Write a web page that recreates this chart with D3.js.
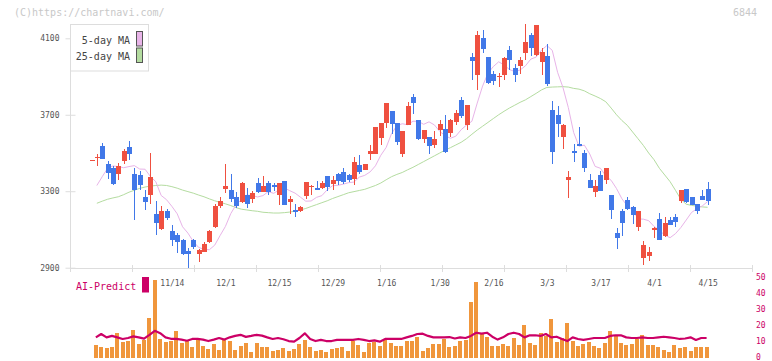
<!DOCTYPE html>
<html>
<head>
<meta charset="utf-8">
<script src="https://cdn.jsdelivr.net/npm/d3@7"></script>
<style>
body { margin: 0; background: #fff; }
svg { display: block; font-family: "DejaVu Sans Mono", "Liberation Mono", monospace; }
</style>
</head>
<body>
<script>
// daily prices, one entry per trading day (index 0 = first day shown)
var open = [3463,3474,3536,3442,3423,3390,3458,3531,3390,3385,3270,3280,3181,3102,3196,3092,3071,3045,2987,3045,
  2972,2982,3034,3113,3223,3312,3306,3270,3244,3280,3259,3343,3296,3343,3333,3280,3354,3244,3202,3197,
  3275,3320,3317,3317,3380,3338,3390,3401,3385,3364,3437,3411,3495,3495,3578,3657,3720,3657,3495,3646,
  3793,3672,3573,3584,3542,3620,3625,3605,3662,3777,3646,4002,3908,4101,4002,3913,3899,3908,4039,3944,
  3955,4023,4117,4013,3976,4007,3725,3699,3583,3359,3510,3547,3500,3359,3296,3385,3359,3280,3081,3196,
  3254,3217,3113,2951,2961,3097,3155,3066,3149,3165,3249,3312,3270,3233,3275,3312];
var high = [3463,3494,3552,3458,3432,3447,3521,3562,3422,3406,3306,3501,3250,3222,3207,3123,3081,3050,3003,3050,
  2998,3034,3097,3233,3270,3442,3390,3296,3348,3317,3301,3369,3380,3354,3343,3343,3354,3275,3233,3223,
  3348,3333,3354,3354,3380,3380,3395,3421,3390,3479,3489,3442,3542,3636,3657,3761,3720,3657,3615,3767,
  3809,3672,3620,3584,3615,3672,3699,3678,3725,3793,3751,4023,4138,4143,4002,3929,3920,4002,4060,3965,
  4002,4175,4128,4169,4049,4070,3772,3746,3651,3406,3547,3636,3516,3390,3359,3406,3421,3280,3107,3207,
  3270,3223,3196,3040,3008,3113,3186,3165,3165,3181,3306,3312,3270,3233,3306,3348];
var low = [3463,3432,3468,3362,3331,3358,3440,3463,3149,3308,3201,3233,3071,3097,3152,3013,2977,2966,2900,2998,
  2930,2982,3029,3108,3212,3291,3244,3212,3238,3212,3238,3291,3296,3280,3301,3228,3228,3181,3165,3191,
  3259,3280,3306,3312,3301,3306,3335,3338,3348,3332,3390,3411,3463,3495,3542,3631,3599,3542,3479,3646,
  3704,3568,3552,3495,3526,3589,3500,3584,3646,3683,3620,3882,3829,4023,3861,3855,3845,3882,3934,3871,
  3913,3986,4007,4007,3908,3850,3442,3583,3521,3264,3453,3536,3401,3317,3270,3301,3338,3155,2998,3066,
  3201,3128,3092,2914,2935,3055,3045,3061,3123,3113,3238,3238,3228,3181,3254,3228];
var close = [3463,3478,3468,3397,3338,3432,3510,3494,3306,3332,3243,3374,3133,3196,3160,3045,3034,2972,2972,3008,
  2993,3024,3092,3223,3249,3327,3259,3223,3343,3233,3291,3296,3327,3296,3322,3343,3228,3259,3191,3217,
  3348,3325,3306,3343,3322,3359,3353,3348,3359,3453,3401,3442,3510,3636,3657,3761,3652,3557,3615,3746,
  3761,3573,3620,3537,3573,3652,3505,3672,3709,3693,3751,3981,4117,4044,3866,3876,3903,3997,3986,3908,
  3986,4080,4049,4169,4028,3861,3505,3651,3646,3374,3500,3536,3421,3317,3327,3301,3421,3202,3055,3134,
  3207,3176,3196,3019,2982,3107,3045,3134,3123,3139,3306,3244,3228,3196,3254,3249];

// moving averages as drawn on the chart (no value on the first day)
var ma5 = [null,3330,3376,3420,3432,3429,3423,3429,3434,3416,3415,3377,3350,3278,3256,3221,3182,3114,3081,3037,3006,
  2996,2994,3018,3068,3116,3183,3230,3256,3280,3277,3270,3277,3298,3289,3306,3317,3303,3290,3269,3248,
  3249,3268,3277,3308,3329,3331,3337,3345,3348,3374,3383,3401,3433,3488,3529,3601,3643,3653,3648,3666,
  3666,3650,3663,3647,3613,3591,3577,3588,3622,3646,3666,3761,3850,3917,3952,3977,3961,3937,3926,3934,
  3956,3991,4002,4038,4062,4037,3922,3843,3738,3607,3535,3541,3495,3430,3420,3380,3357,3314,3261,3223,
  3204,3155,3154,3146,3116,3096,3070,3057,3078,3110,3149,3189,3208,3223,3246];
var ma25 = [null,3237,3248,3258,3265,3271,3282,3295,3305,3315,3322,3327,3330,3332,3330,3324,3316,3306,3298,3290,3280,
  3271,3260,3250,3242,3234,3225,3214,3206,3202,3198,3195,3190,3188,3186,3186,3188,3191,3196,3202,3210,
  3220,3230,3240,3250,3262,3272,3282,3292,3298,3304,3310,3320,3330,3343,3360,3376,3388,3398,3412,3425,
  3440,3455,3470,3485,3500,3515,3528,3542,3556,3575,3598,3620,3640,3660,3680,3700,3718,3735,3750,3765,
  3778,3795,3812,3830,3843,3845,3846,3847,3845,3838,3834,3825,3810,3798,3785,3768,3735,3700,3670,3645,
  3610,3575,3540,3500,3465,3420,3385,3350,3305,3258,3232,3226,3222,3218,3216];

// volume bars and the AI-Predict line (right axis units)
var volume = [null,8.1,6.9,6.3,6.9,15.6,10.2,10.6,17.5,8.8,11.3,25,49,11.9,10.2,10.4,17.1,9.6,10.6,6.9,11.3,
  7.5,5.6,8.8,5.0,11.9,10.4,5.0,7.5,9.4,3.8,9.4,6.9,6.9,4.6,5.0,6.3,4.4,5.6,8.8,11.3,
  6.9,4.4,5.0,3.8,5.6,6.3,6.9,4.4,10.6,8.1,3.8,9.4,10.2,7.5,11.3,9.4,7.5,7.5,10.6,10.6,
  13.1,4.4,6.3,8.8,8.8,11.9,6.9,7.5,10.6,11.3,35,47.5,15.6,13.1,7.5,7.5,8.8,7.5,12.5,8.1,
  20.6,9.4,8.1,15.6,13.8,24.4,10.2,12.5,22,10.6,7.5,8.8,10.2,7.5,6.3,9.4,16.9,13.8,9.4,8.1,
  8.8,11.9,14.4,8.1,8.1,6.9,5.0,3.8,8.1,6.3,6.9,4.4,6.9,6.9,6.9];
var aiPredict = [null,12.9,15.0,12.9,13.8,12.9,11.9,12.5,13.5,12.9,12.1,14.4,17.0,15.5,12.9,12.0,11.9,11.5,10.8,11.9,11.9,
  11.5,10.6,11.5,12.5,11.5,12.9,13.8,14.5,13.2,13.8,14.5,14.0,12.9,11.9,12.5,11.7,10.6,10.2,12.5,15.4,
  11.9,10.6,11.3,10.6,10.6,11.3,11.3,11.3,11.3,11.9,11.3,10.6,11.0,10.2,11.9,11.9,11.9,11.9,12.9,13.8,
  15.0,15.2,13.8,12.9,12.9,12.9,13.1,12.2,12.9,12.5,13.8,15.8,15.2,15.8,13.3,11.5,12.9,15.0,15.8,15.0,
  12.9,14.2,14.2,13.8,15.0,12.9,13.3,11.9,10.6,12.9,11.9,11.3,11.9,12.5,12.5,12.5,13.8,14.2,14.2,12.9,
  12.5,12.5,12.9,12.5,12.5,12.9,13.3,12.9,12.5,11.9,12.2,12.9,11.3,12.5,12.5];

// axis labels
var dateTickIdx = [15,25,35,45,55,65,75,85,95,105,115];
var dateTickLabels = ["11/14","12/1","12/15","12/29","1/16","1/30","2/16","3/3","3/17","4/1","4/15"];
var priceTicks = [2900,3300,3700,4100];
var volTicks = [0,10,20,30,40,50];

var width = 772, height = 361;
var svg = d3.select("body").append("svg")
    .attr("width", width)
    .attr("height", height);

var x = d3.scaleLinear().domain([0, 115]).range([91.5, 707.6]);
var y = d3.scaleLinear().domain([2900, 4100]).range([267.7, 38.3]);
var yv = d3.scaleLinear().domain([0, 50]).range([358, 278]);
// the grey marks along the bottom line, evenly spaced
var gridX = d3.scaleLinear().domain([0, 11]).range([70.5, 752.5]);

// header texts
svg.append("text").attr("x", 14).attr("y", 15.5)
  .attr("font-size", 10).attr("fill", "#c8c8c8")
  .text("(C)https://chartnavi.com/");
svg.append("text").attr("x", 757).attr("y", 15.5)
  .attr("font-size", 10).attr("fill", "#c8c8c8").attr("text-anchor", "end")
  .text("6844");

// left price axis
svg.append("line")
  .attr("x1", 70.5).attr("x2", 70.5).attr("y1", 24).attr("y2", 268.5)
  .attr("stroke", "#ddd");
var yAxis = svg.append("g")
  .attr("transform", "translate(70.5,0)")
  .call(d3.axisLeft(y).tickValues(priceTicks).tickFormat(d3.format("d"))
    .tickSize(5).tickPadding(6));
yAxis.select(".domain").remove();
yAxis.selectAll(".tick line").attr("x1", 5).attr("x2", -5).attr("stroke", "#ddd");
yAxis.selectAll(".tick text")
  .attr("font-family", "DejaVu Sans Mono, monospace")
  .attr("font-size", 8).attr("fill", "#555");

// bottom line with grey marks
svg.append("line")
  .attr("x1", 70).attr("x2", 752).attr("y1", 268.5).attr("y2", 268.5)
  .attr("stroke", "#ddd");
svg.append("g").selectAll("line")
  .data(d3.range(0, 12))
  .enter().append("line")
  .attr("x1", function(d){ return gridX(d); })
  .attr("x2", function(d){ return gridX(d); })
  .attr("y1", 265).attr("y2", 272)
  .attr("stroke", "#ddd");

// date labels
var xAxis = svg.append("g")
  .attr("transform", "translate(0,268)")
  .call(d3.axisBottom(x).tickValues(dateTickIdx)
    .tickFormat(function(d, i){ return dateTickLabels[i]; })
    .tickSize(0).tickPadding(12));
xAxis.select(".domain").remove();
xAxis.selectAll(".tick text")
  .attr("font-family", "DejaVu Sans Mono, monospace")
  .attr("font-size", 8).attr("fill", "#555");

// volume axis on the right
var vAxis = svg.append("g")
  .attr("transform", "translate(752,0)")
  .call(d3.axisRight(yv).tickValues(volTicks).tickSize(0).tickPadding(4));
vAxis.select(".domain").remove();
vAxis.selectAll(".tick text")
  .attr("font-family", "DejaVu Sans Mono, monospace")
  .attr("font-size", 8).attr("fill", "#cc0066")
  .attr("dy", "0.15em");

// moving averages
var lineOf = function(arr){
  return d3.line()
    .defined(function(d){ return d != null; })
    .x(function(d, i){ return x(i); })
    .y(function(d){ return y(d); })(arr);
};
svg.append("path").attr("d", lineOf(ma25))
  .attr("fill", "none").attr("stroke", "#b4dca0").attr("stroke-width", 1);
svg.append("path").attr("d", lineOf(ma5))
  .attr("fill", "none").attr("stroke", "#e8b4e8").attr("stroke-width", 1);

// candles
var days = d3.range(open.length);
var candles = svg.append("g").attr("shape-rendering", "crispEdges");
candles.selectAll("line.wick")
  .data(days).enter().append("line")
  .attr("class", "wick")
  .attr("x1", function(i){ return Math.round(x(i)) + 0.5; })
  .attr("x2", function(i){ return Math.round(x(i)) + 0.5; })
  .attr("y1", function(i){ return y(high[i]); })
  .attr("y2", function(i){ return y(low[i]); })
  .attr("stroke", function(i){ return close[i] >= open[i] ? "#ef5040" : "#4178e8"; })
  .attr("stroke-width", 1);
candles.selectAll("rect.body")
  .data(days).enter().append("rect")
  .attr("class", "body")
  .attr("x", function(i){ return Math.round(x(i)) - 2; })
  .attr("width", 5)
  .attr("y", function(i){ return y(Math.max(open[i], close[i])); })
  .attr("height", function(i){ return Math.max(1, Math.abs(y(open[i]) - y(close[i]))); })
  .attr("fill", function(i){ return close[i] >= open[i] ? "#ef5040" : "#4178e8"; });

// legend
svg.append("rect").attr("x", 70.5).attr("y", 24.5).attr("width", 78).attr("height", 46.5)
  .attr("fill", "#fff").attr("stroke", "#ddd");
var legendItems = [["5-day MA", "#e8b4e8"], ["25-day MA", "#b4dca0"]];
legendItems.forEach(function(item, k){
  svg.append("text").attr("x", 130).attr("y", 43.5 + k * 16)
    .attr("font-size", 10).attr("fill", "#444").attr("text-anchor", "end")
    .text(item[0]);
  svg.append("rect").attr("x", 136.5).attr("y", 31.5 + k * 16.5)
    .attr("width", 6).attr("height", 14.5)
    .attr("fill", item[1]).attr("stroke", "#555");
});

// volume bars
svg.append("g").attr("shape-rendering", "crispEdges")
  .selectAll("rect")
  .data(days.filter(function(i){ return volume[i] != null; }))
  .enter().append("rect")
  .attr("x", function(i){ return Math.round(x(i)) - 3; })
  .attr("width", 4)
  .attr("y", function(i){ return yv(volume[i]); })
  .attr("height", function(i){ return yv(0) - yv(volume[i]); })
  .attr("fill", "#f0963c");

// AI-Predict line
svg.append("path")
  .attr("d", d3.line()
    .defined(function(d){ return d != null; })
    .x(function(d, i){ return x(i) - 1; })
    .y(function(d){ return yv(d); })(aiPredict))
  .attr("fill", "none").attr("stroke", "#cc0066")
  .attr("stroke-width", 2.2).attr("stroke-linejoin", "round");

svg.append("text").attr("x", 76).attr("y", 290)
  .attr("font-size", 10).attr("fill", "#cc0066")
  .text("AI-Predict");
svg.append("rect").attr("x", 142).attr("y", 277).attr("width", 7).attr("height", 15.5)
  .attr("fill", "#cc0066");
</script>
</body>
</html>
